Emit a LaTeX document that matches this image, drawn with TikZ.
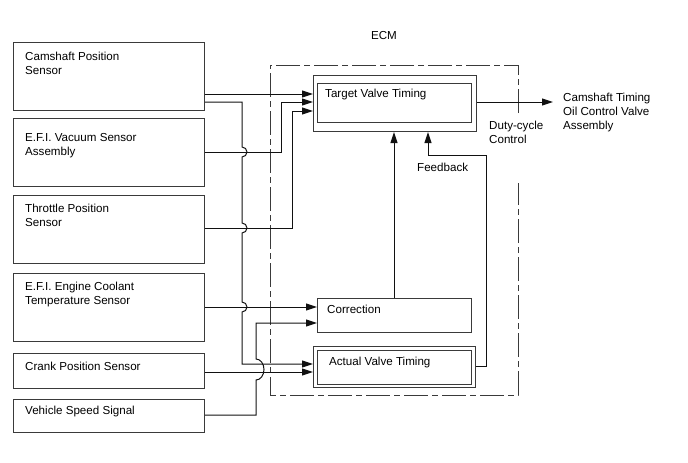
\documentclass[tikz,border=0pt]{standalone}
\usepackage{fontspec}
\setmainfont{Liberation Sans}
\usetikzlibrary{arrows.meta,positioning,calc}
\definecolor{vvtEdge}{HTML}{3A3A3A}
\definecolor{vvtWire}{HTML}{111111}

\begin{document}
\begin{tikzpicture}[x=1pt,y=-1pt,font=\fontsize{11.6}{14}\selectfont,
    blk/.style={draw=vvtEdge,line width=1.1pt,inner sep=0pt,anchor=north west},
    txt/.style={anchor=base west,inner sep=0pt,align=left},
    sig/.style={draw=vvtWire,line width=1pt},
    tip/.style={sig,-{Triangle[length=11pt,width=7pt]}},
    ecmFrame/.style={draw=vvtEdge,line width=0.9pt,
                     dash pattern=on 24pt off 4pt on 6pt off 4pt}]
  \useasboundingbox (0,0) rectangle (688,463);

  % sensors on the left
  \node[blk,minimum width=191pt,minimum height=68pt] (cps) at (13,42)  {};
  \node[blk,minimum width=191pt,minimum height=68pt] (vac) at (13,118) {};
  \node[blk,minimum width=191pt,minimum height=68pt] (tps) at (13,195) {};
  \node[blk,minimum width=191pt,minimum height=68pt] (ect) at (13,273) {};
  \node[blk,minimum width=191pt,minimum height=35pt] (ckp) at (13,353) {};
  \node[blk,minimum width=191pt,minimum height=33pt] (spd) at (13,399) {};
  % (base = last line)
  \node[txt] (cpsT) at (25,74)    {Camshaft Position\\Sensor};
  \node[txt] (vacT) at (25,155)   {E.F.I. Vacuum Sensor\\Assembly};
  \node[txt] (tpsT) at (25,226.5) {Throttle Position\\Sensor};
  \node[txt] (ectT) at (25,304)   {E.F.I. Engine Coolant\\Temperature Sensor};
  \node[txt] (ckpT) at (25,370)   {Crank Position Sensor};
  \node[txt] (spdT) at (25,414)   {Vehicle Speed Signal};

  % ECM frame, open where the duty-cycle note sits
  \coordinate (ecmA) at (518,113);
  \coordinate (ecmB) at (518,183);
  \draw[ecmFrame] (ecmA) -- (518,65) -- (270,65) -- (270,395) -- (518,395) -- (ecmB);
  \node (ecmT) at (384,36) {ECM};

  % ECM blocks
  \node[blk,minimum width=163pt,minimum height=56pt]   (tvt)   at (313,75)    {};
  \node[blk,minimum width=154pt,minimum height=39pt]   (tvtIn) at (317,83)    {};
  \node[blk,minimum width=154pt,minimum height=34pt]   (corr)  at (317,298)   {};
  \node[blk,minimum width=162pt,minimum height=41pt]   (avt)   at (313,346)   {};
  \node[blk,minimum width=154pt,minimum height=34.5pt] (avtIn) at (317,349.5) {};
  \node[txt] (tvtT)  at (325,97.5) {Target Valve Timing};
  \node[txt] (corrT) at (327,313)  {Correction};
  \node[txt] (avtT)  at (329,365)  {Actual Valve Timing};

  % output side
  \coordinate (ocvIn) at (553,102);
  \node[txt] (ocvT)  at (563,129.7) {Camshaft Timing\\Oil Control Valve\\Assembly};
  \node[txt] (dutyT) at (489,143)   {Duty-cycle\\Control};
  \node[txt] (fbT)   at (417,171.7) {Feedback};

  % signal lines
  \draw[tip] (cps.east |- 0,94) -- (tvt.west |- 0,94);
  \draw[tip] (cps.east |- 0,102) -- (242,102) -- (242,147)
    arc[start angle=-90,end angle=90,radius=5] -- (242,223)
    arc[start angle=-90,end angle=90,radius=5] -- (242,302)
    arc[start angle=-90,end angle=90,radius=5] -- (242,364) -- (avt.west |- 0,364);
  \draw[tip] (vac.east |- 0,152) -| (281,102) -- (tvt.west |- 0,102);
  \draw[tip] (tps.east |- 0,228) -| (292,111) -- (tvt.west |- 0,111);
  \draw[tip] (ect.east |- 0,307) -- (corr.west |- 0,307);
  \draw[tip] (spd.east |- 0,415) -- (256,415) -- (256,380)
    arc[start angle=90,end angle=-90,x radius=8,y radius=10.5] -- (256,323)
    -- (corr.west |- 0,323);
  \draw[tip] (ckp.east |- 0,372) -- (avt.west |- 0,372);
  \draw[tip] (corr.north -| 394,0) -- (tvt.south -| 394,0);
  \draw[tip] (avt.east |- 0,366) -- (486,366) -- (486,155) -| (tvt.south -| 428,0);
  \draw[tip] (tvt.east |- 0,102) -- (ocvIn);
\end{tikzpicture}
\end{document}
